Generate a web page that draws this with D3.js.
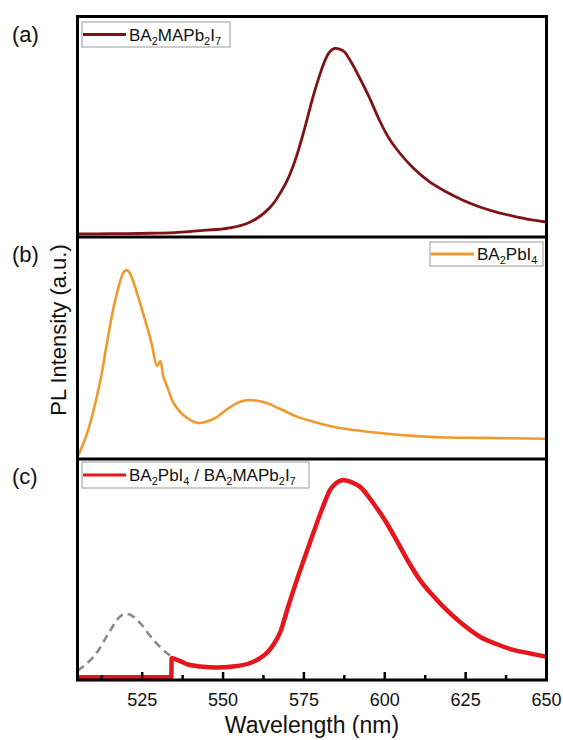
<!DOCTYPE html>
<html>
<head>
<meta charset="utf-8">
<script src="https://cdn.jsdelivr.net/npm/d3@7"></script>
<style>
	html, body { margin: 0; padding: 0; background: #fff; }
	svg text { font-family: "Liberation Sans", Arial, sans-serif; fill: #111; }
</style>
</head>
<body>
<svg id="viz" width="563" height="740"></svg>
<script>
// (a) BA2MAPb2I7, normalised intensity
const wlA = [505, 515, 527.5, 535, 543, 548, 553, 557, 560.5, 563, 565.6, 567.7, 569.7, 571.5, 572.8, 575, 577.9, 580, 581.5, 583, 584.5, 586, 587.5, 589, 591.3, 595, 598.5, 601, 603.7, 608.8, 614, 619.1, 624, 629.4, 634.5, 639.7, 645, 650];
const intA = [0.014, 0.015, 0.017, 0.020, 0.029, 0.034, 0.044, 0.059, 0.085, 0.113, 0.153, 0.200, 0.252, 0.315, 0.370, 0.480, 0.640, 0.740, 0.800, 0.840, 0.855, 0.852, 0.840, 0.808, 0.748, 0.640, 0.525, 0.455, 0.398, 0.313, 0.249, 0.204, 0.168, 0.136, 0.113, 0.095, 0.079, 0.068];

// (b) BA2PbI4
const wlB = [505, 508, 512.1, 514, 516.2, 518.3, 519.3, 520.1, 521, 522.4, 524.5, 526.5, 528, 529.6, 530.6, 531.5, 532.7, 534.7, 536.5, 538.8, 542.4, 545, 548.1, 550.5, 553.2, 556, 558.4, 561, 563.5, 567.7, 572.8, 577.9, 583, 588.2, 598.5, 608.8, 619, 629.4, 650];
const intB = [0.009, 0.117, 0.356, 0.514, 0.686, 0.806, 0.842, 0.851, 0.842, 0.793, 0.694, 0.596, 0.514, 0.419, 0.441, 0.374, 0.326, 0.252, 0.216, 0.185, 0.162, 0.169, 0.189, 0.216, 0.243, 0.261, 0.266, 0.261, 0.252, 0.225, 0.191, 0.168, 0.149, 0.135, 0.117, 0.104, 0.097, 0.095, 0.091];

// (c) BA2PbI4 / BA2MAPb2I7 heterostructure
const wlC = [505, 534.0, 534.1, 536, 538.8, 543, 548.1, 553, 558.4, 561, 563.5, 565.5, 567.7, 570, 572.8, 575.5, 577.9, 580.5, 583.1, 585, 587.2, 589.5, 592.3, 596.4, 600, 603.6, 607, 610.9, 615, 619.1, 624, 629.4, 634.5, 639.7, 645, 650];
const intC = [0.012, 0.012, 0.098, 0.090, 0.072, 0.061, 0.056, 0.061, 0.077, 0.095, 0.122, 0.158, 0.217, 0.326, 0.452, 0.566, 0.665, 0.769, 0.860, 0.891, 0.905, 0.896, 0.875, 0.801, 0.724, 0.633, 0.543, 0.452, 0.380, 0.317, 0.253, 0.196, 0.163, 0.136, 0.120, 0.105];

// (c) grey dashed guide, quenched BA2PbI4 emission
const wlG = [505, 510, 515.2, 518, 519.8, 521.5, 524.4, 528.5, 532.7, 535.2];
const intG = [0.041, 0.105, 0.226, 0.285, 0.299, 0.294, 0.257, 0.181, 0.121, 0.098];

const majorTicks = [525, 550, 575, 600, 625, 650];
const minorTicks = [512.5, 537.5, 562.5, 587.5, 612.5, 637.5];

const svg = d3.select('#viz');
const left = 77.5, right = 546.5;
const panelTops = [16.5, 237, 459];
const panelBottoms = [237, 459, 680];

const x = d3.scaleLinear().domain([505, 650]).range([left, right]);
const yScale = i => d3.scaleLinear().domain([0, 1]).range([panelBottoms[i], panelTops[i]]);

const zip = (a, b) => a.map((v, i) => [v, b[i]]);

const panels = [
	{ label: '(a)', data: zip(wlA, intA), color: '#7f1214', width: 2.8, curve: d3.curveCatmullRom.alpha(0.5),
		legend: { x: 82, y: 22, w: 148, h: 25, parts: [['BA'], ['2', 1], ['MAPb'], ['2', 1], ['I'], ['7', 1]] } },
	{ label: '(b)', data: zip(wlB, intB), color: '#ef9a2c', width: 2.6, curve: d3.curveCatmullRom.alpha(0.5),
		legend: { x: 430, y: 242, w: 113, h: 24, parts: [['BA'], ['2', 1], ['PbI'], ['4', 1]] } },
	{ label: '(c)', data: zip(wlC, intC), color: '#e5161c', width: 4.5, curve: d3.curveMonotoneX,
		legend: { x: 82, y: 462, w: 227, h: 26, parts: [['BA'], ['2', 1], ['PbI'], ['4', 1], [' / BA'], ['2', 1], ['MAPb'], ['2', 1], ['I'], ['7', 1]] } }
];

panels.forEach((p, i) => {
	const y = yScale(i);
	const line = d3.line().x(d => x(d[0])).y(d => y(d[1])).curve(p.curve);

	if (i === 2) {
		svg.append('path')
			.datum(zip(wlG, intG))
			.attr('d', d3.line().x(d => x(d[0])).y(d => y(d[1])).curve(d3.curveCatmullRom.alpha(0.5)))
			.attr('fill', 'none')
			.attr('stroke', '#8a8a8a')
			.attr('stroke-width', 2.6)
			.attr('stroke-dasharray', '8,5');
	}

	svg.append('path')
		.datum(p.data)
		.attr('d', line)
		.attr('fill', 'none')
		.attr('stroke', p.color)
		.attr('stroke-width', p.width)
		.attr('stroke-linejoin', 'round');

	// panel letter
	svg.append('text')
		.attr('x', 12)
		.attr('y', panelTops[i] + 25)
		.attr('font-size', 22)
		.text(p.label);

	// legend
	const lg = p.legend;
	const g = svg.append('g');
	g.append('rect')
		.attr('x', lg.x).attr('y', lg.y)
		.attr('width', lg.w).attr('height', lg.h)
		.attr('fill', '#fff')
		.attr('stroke', '#999')
		.attr('stroke-width', 1);
	g.append('line')
		.attr('x1', lg.x + 1).attr('x2', lg.x + 44)
		.attr('y1', lg.y + lg.h / 2).attr('y2', lg.y + lg.h / 2)
		.attr('stroke', p.color)
		.attr('stroke-width', 3);
	const t = g.append('text')
		.attr('x', lg.x + 47)
		.attr('y', lg.y + lg.h / 2 + 6)
		.attr('font-size', 17);
	let sub = false;
	lg.parts.forEach(([s, isSub]) => {
		const ts = t.append('tspan').text(s);
		if (isSub && !sub) { ts.attr('font-size', 11).attr('dy', 4); sub = true; }
		else if (!isSub && sub) { ts.attr('dy', -4); sub = false; }
		else if (isSub) ts.attr('font-size', 11);
	});
});

// frame
svg.append('rect')
	.attr('x', left).attr('y', panelTops[0])
	.attr('width', right - left).attr('height', panelBottoms[2] - panelTops[0])
	.attr('fill', 'none')
	.attr('stroke', '#000')
	.attr('stroke-width', 3);
[237, 459].forEach(yy => {
	svg.append('line')
		.attr('x1', left).attr('x2', right)
		.attr('y1', yy).attr('y2', yy)
		.attr('stroke', '#000')
		.attr('stroke-width', 3);
});

// bottom axis ticks, pointing inward (drawn on top)
const axisY = panelBottoms[2];
const gx = svg.append('g').attr('transform', `translate(0,${axisY})`);
gx.selectAll('line.major')
	.data(majorTicks)
	.enter()
		.append('line')
		.classed('major', true)
		.attr('x1', d => x(d)).attr('x2', d => x(d))
		.attr('y1', 0).attr('y2', -8)
		.attr('stroke', '#000')
		.attr('stroke-width', 2.5);
gx.selectAll('line.minor')
	.data(minorTicks)
	.enter()
		.append('line')
		.classed('minor', true)
		.attr('x1', d => x(d)).attr('x2', d => x(d))
		.attr('y1', 0).attr('y2', -5)
		.attr('stroke', '#000')
		.attr('stroke-width', 2.5);
gx.selectAll('text')
	.data(majorTicks)
	.enter()
		.append('text')
		.attr('x', d => x(d))
		.attr('y', 25.5)
		.attr('text-anchor', 'middle')
		.attr('font-size', 18)
		.text(d3.format('d'));

// axis titles
svg.append('text')
	.attr('x', (left + right) / 2)
	.attr('y', 733)
	.attr('text-anchor', 'middle')
	.attr('font-size', 23)
	.text('Wavelength (nm)');

svg.append('text')
	.attr('transform', 'translate(66,330) rotate(-90)')
	.attr('text-anchor', 'middle')
	.attr('font-size', 22)
	.text('PL Intensity (a.u.)');
</script>
</body>
</html>
